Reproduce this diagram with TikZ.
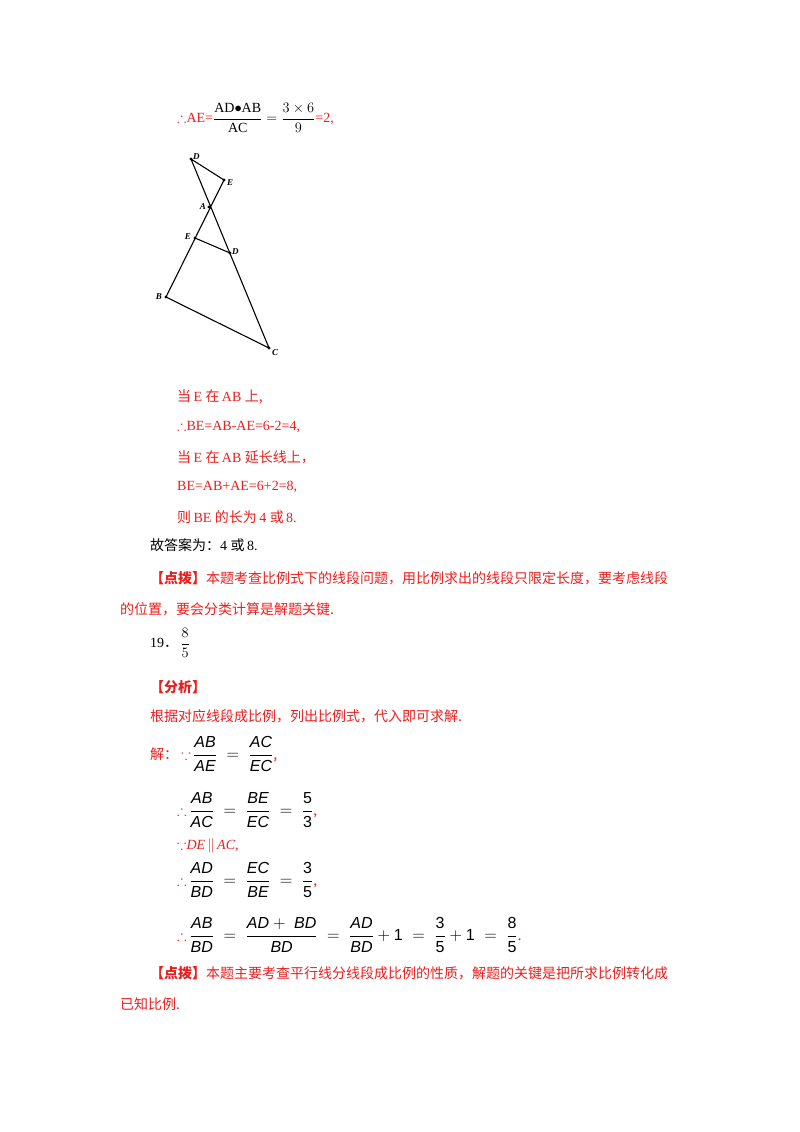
\documentclass[tikz,border=0pt]{standalone}
\usepackage{amsmath,amssymb}
\usepackage{fontspec}
\setmainfont{Liberation Serif}
\newfontfamily\cjk{Noto Sans CJK SC}
\newfontfamily\mysf{Liberation Sans}
\definecolor{rd}{RGB}{235,30,30}
\newcommand{\thf}{\ensuremath{\boldsymbol{\therefore}}}
\newcommand{\bcs}{\ensuremath{\boldsymbol{\because}}}
\begin{document}
\begin{tikzpicture}[x=1pt,y=-1pt,
  t/.style={anchor=west,inner sep=0pt,font=\fontsize{14}{16}\selectfont},
  r/.style={t,text=rd},
  m/.style={r,font=\fontsize{16}{18}\selectfont},
  lb/.style={inner sep=1pt,font=\fontsize{9}{10}\selectfont\bfseries\itshape},
  dot/.style={circle,fill,inner sep=0pt,minimum size=3.2pt}]
\useasboundingbox (0,0) rectangle (800,1132);
% top formula
\node[r] (f1) at (177,118) {$\therefore$AE=\textcolor{black}{$\dfrac{\mathrm{AD{\bullet}AB}}{\mathrm{AC}}=\dfrac{3\times6}{9}$}=2,};
% figure
\node[dot] (D1) at (191,159) {}; \node[lb,anchor=west] at (192,157) {D};
\node[dot] (E1) at (224,180) {}; \node[lb,anchor=north west] at (226,178) {E};
\node[dot] (A) at (209,207) {}; \node[lb,anchor=east] at (207,207) {A};
\node[dot] (E2) at (195,238) {}; \node[lb,anchor=east] at (192,237) {E};
\node[dot] (D2) at (230,253) {}; \node[lb,anchor=west] at (231,252) {D};
\node[dot] (B) at (166,297) {}; \node[lb,anchor=east] at (163,297) {B};
\node[dot] (C) at (269,348) {}; \node[lb,anchor=north west] at (271,348) {C};
\draw[line width=1.1pt] (D1.center)--(E1.center)--(B.center)--(C.center)--(D1.center);
\draw[line width=1.1pt] (E2.center)--(D2.center);
% text
\node[r] (l1) at (177,397) {\cjk 当\,\rmfamily E \cjk 在\,\rmfamily AB \cjk 上,};
\node[r] (l2) at (177,427) {$\therefore$BE=AB-AE=6-2=4,};
\node[r] (l3) at (177,457) {\cjk 当\,\rmfamily E \cjk 在\,\rmfamily AB \cjk 延长线上，};
\node[r] (l4) at (177,487) {BE=AB+AE=6+2=8,};
\node[r] (l5) at (177,517) {\cjk 则\,\rmfamily BE \cjk 的长为\,\rmfamily 4 \cjk 或\,\rmfamily 8.};
\node[t] (l6) at (150,545) {\cjk 故答案为：\rmfamily 4 \cjk 或\,\rmfamily 8.};
\node[r] (l7) at (150,578) {\cjk\bfseries 【点拨】\mdseries 本题考查比例式下的线段问题，用比例求出的线段只限定长度，要考虑线段};
\node[r] (l8) at (120,609) {\cjk 的位置，要会分类计算是解题关键.};
\node[t] (l9) at (150,643) {19{\cjk ．}\,$\dfrac{8}{5}$};
\node[r] (l10) at (150,687) {\cjk\bfseries 【分析】};
\node[r] (l11) at (150,716) {\cjk 根据对应线段成比例，列出比例式，代入即可求解.};
\node[r] (m1) at (150,754) {\cjk 解：\ \textcolor{rd}{\Large\bcs}\,\textcolor{black}{\fontsize{16}{18}\selectfont\mysf\itshape $\dfrac{\mbox{AB}}{\mbox{AE}}\;=\;\dfrac{\mbox{AC}}{\mbox{EC}}$},};
\node[m] (m2) at (177,810) {{\Large\thf}\,\textcolor{black}{\mysf\itshape $\dfrac{\mbox{AB}}{\mbox{AC}}\;=\;\dfrac{\mbox{BE}}{\mbox{EC}}\;=\;\dfrac{\mbox{\upshape 5}}{\mbox{\upshape 3}}$},};
\node[r] (m3) at (177,846) {$\because$\textit{DE}$\,\|\,$\textit{AC},};
\node[m] (m4) at (177,880) {{\Large\thf}\,\textcolor{black}{\mysf\itshape $\dfrac{\mbox{AD}}{\mbox{BD}}\;=\;\dfrac{\mbox{EC}}{\mbox{BE}}\;=\;\dfrac{\mbox{\upshape 3}}{\mbox{\upshape 5}}$},};
\node[m] (m5) at (177,935) {{\Large\thf}\,\textcolor{black}{\mysf\itshape $\dfrac{\mbox{AB}}{\mbox{BD}}\;=\;\dfrac{\mbox{AD}+\;\mbox{BD}}{\mbox{BD}}\;=\;\dfrac{\mbox{AD}}{\mbox{BD}}+\mbox{\upshape 1}\;=\;\dfrac{\mbox{\upshape 3}}{\mbox{\upshape 5}}+\mbox{\upshape 1}\;=\;\dfrac{\mbox{\upshape 8}}{\mbox{\upshape 5}}$}.};
\node[r] (l12) at (150,973) {\cjk\bfseries 【点拨】\mdseries 本题主要考查平行线分线段成比例的性质，解题的关键是把所求比例转化成};
\node[r] (l13) at (120,1004) {\cjk 已知比例.};
\end{tikzpicture}
\end{document}
